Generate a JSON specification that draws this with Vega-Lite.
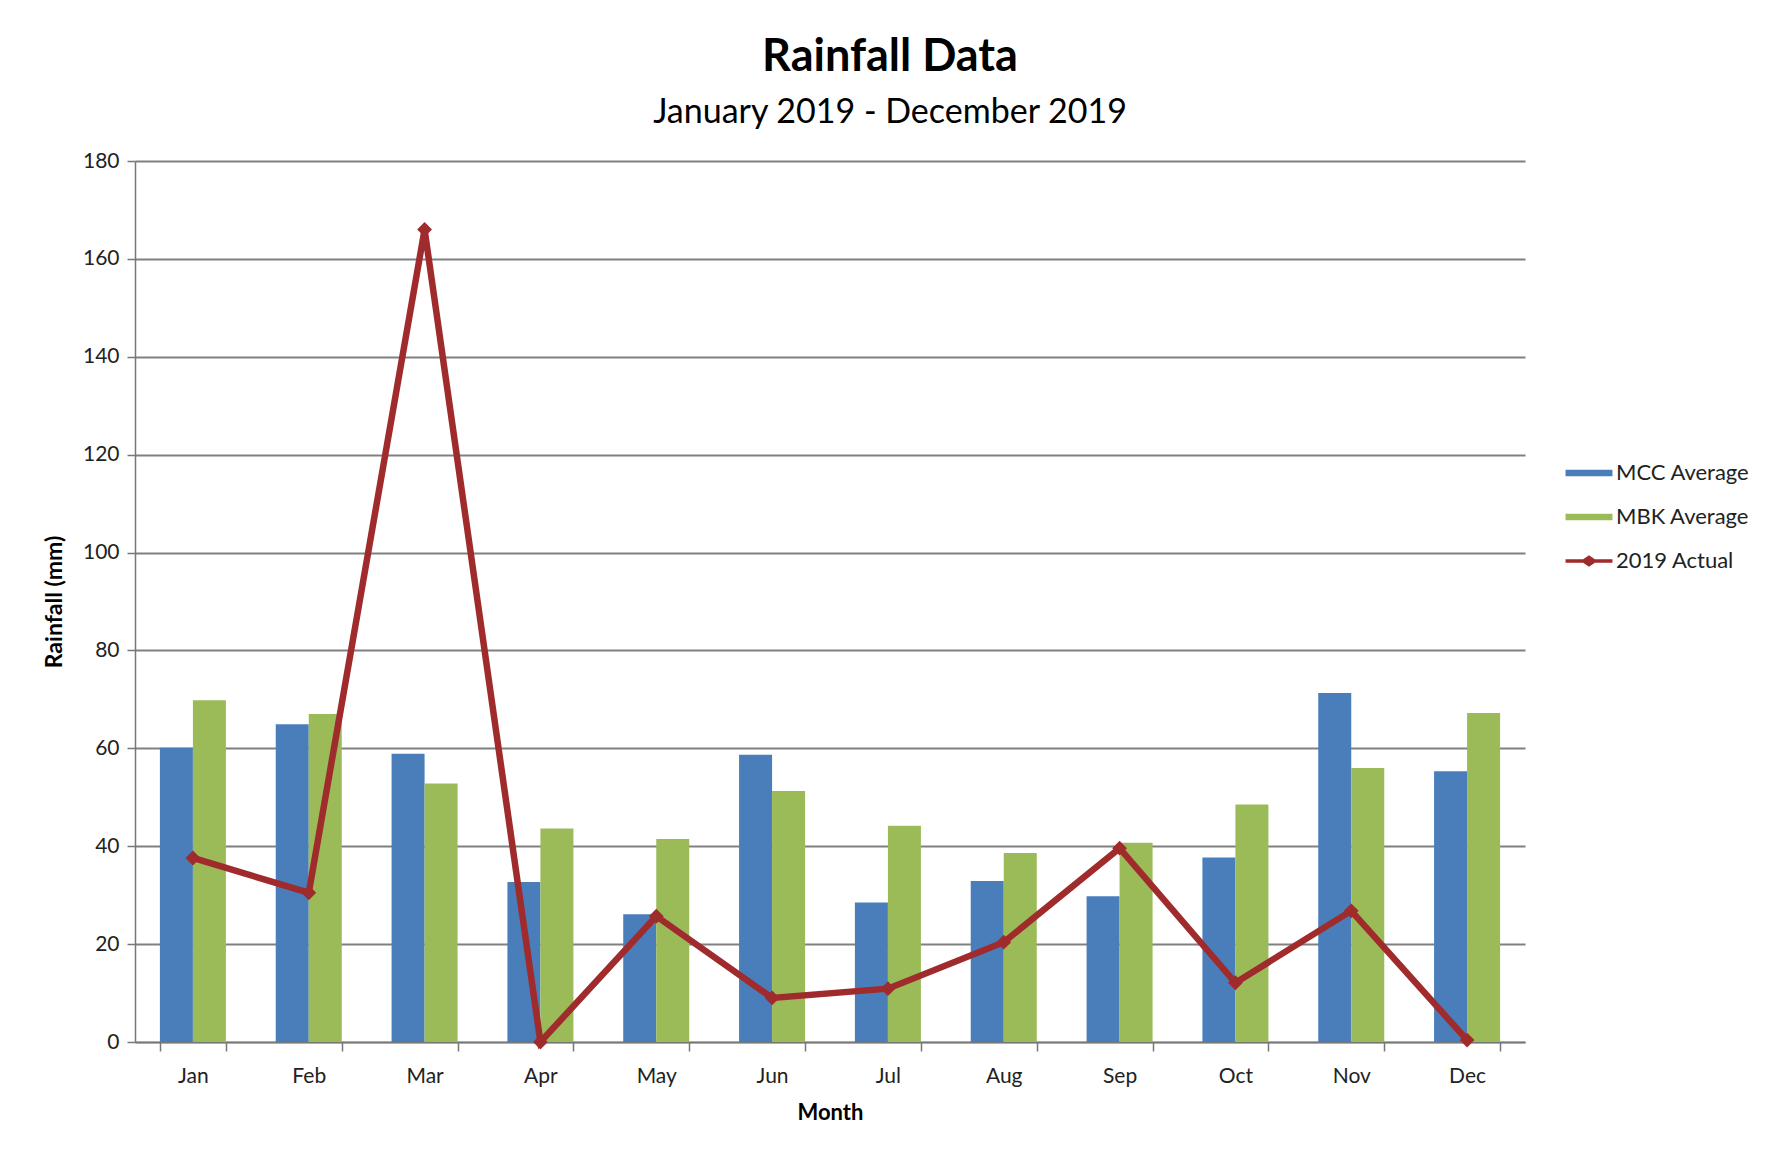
{
  "$schema": "https://vega.github.io/schema/vega-lite/v6.json",
  "width": 1390,
  "height": 881,
  "autosize": {"type": "none"},
  "padding": {"left": 135, "top": 161, "right": 242, "bottom": 113},
  "background": "white",
  "title": {
    "text": "Rainfall Data",
    "subtitle": "January 2019 - December 2019",
    "anchor": "middle",
    "dx": 60,
    "font": "Lato",
    "fontSize": 45,
    "fontWeight": "bold",
    "color": "black",
    "subtitleFont": "Lato",
    "subtitleFontSize": 34,
    "subtitleColor": "black",
    "subtitlePadding": 16,
    "offset": 20
  },
  "datasets": {
    "bars": [
      {"month": "Jan", "series": "MCC Average", "rain": 60.1},
      {"month": "Jan", "series": "MBK Average", "rain": 69.8},
      {"month": "Feb", "series": "MCC Average", "rain": 64.9},
      {"month": "Feb", "series": "MBK Average", "rain": 67.0},
      {"month": "Mar", "series": "MCC Average", "rain": 58.9},
      {"month": "Mar", "series": "MBK Average", "rain": 52.8},
      {"month": "Apr", "series": "MCC Average", "rain": 32.7},
      {"month": "Apr", "series": "MBK Average", "rain": 43.6},
      {"month": "May", "series": "MCC Average", "rain": 26.1},
      {"month": "May", "series": "MBK Average", "rain": 41.5},
      {"month": "Jun", "series": "MCC Average", "rain": 58.7},
      {"month": "Jun", "series": "MBK Average", "rain": 51.3},
      {"month": "Jul", "series": "MCC Average", "rain": 28.5},
      {"month": "Jul", "series": "MBK Average", "rain": 44.2},
      {"month": "Aug", "series": "MCC Average", "rain": 32.9},
      {"month": "Aug", "series": "MBK Average", "rain": 38.6},
      {"month": "Sep", "series": "MCC Average", "rain": 29.8},
      {"month": "Sep", "series": "MBK Average", "rain": 40.7},
      {"month": "Oct", "series": "MCC Average", "rain": 37.7},
      {"month": "Oct", "series": "MBK Average", "rain": 48.5},
      {"month": "Nov", "series": "MCC Average", "rain": 71.3},
      {"month": "Nov", "series": "MBK Average", "rain": 56.0},
      {"month": "Dec", "series": "MCC Average", "rain": 55.3},
      {"month": "Dec", "series": "MBK Average", "rain": 67.2}
    ],
    "actual": [
      {"month": "Jan", "series": "2019 Actual", "rain": 37.6},
      {"month": "Feb", "series": "2019 Actual", "rain": 30.5},
      {"month": "Mar", "series": "2019 Actual", "rain": 166.0},
      {"month": "Apr", "series": "2019 Actual", "rain": 0},
      {"month": "May", "series": "2019 Actual", "rain": 25.7},
      {"month": "Jun", "series": "2019 Actual", "rain": 9.0},
      {"month": "Jul", "series": "2019 Actual", "rain": 10.9},
      {"month": "Aug", "series": "2019 Actual", "rain": 20.4},
      {"month": "Sep", "series": "2019 Actual", "rain": 39.6},
      {"month": "Oct", "series": "2019 Actual", "rain": 12.1},
      {"month": "Nov", "series": "2019 Actual", "rain": 26.8},
      {"month": "Dec", "series": "2019 Actual", "rain": 0.4}
    ]
  },
  "config": {
    "font": "Lato",
    "view": {"stroke": null},
    "axis": {
      "labelFont": "Lato",
      "labelFontSize": 21,
      "labelColor": "#222",
      "titleFont": "Lato",
      "titleFontSize": 22,
      "titleFontWeight": "bold",
      "titleColor": "black",
      "domainColor": "#777",
      "tickColor": "#777",
      "domainWidth": 1.5,
      "tickWidth": 1.5
    }
  },
  "encoding": {
    "x": {
      "field": "month",
      "type": "nominal",
      "sort": ["Jan","Feb","Mar","Apr","May","Jun","Jul","Aug","Sep","Oct","Nov","Dec"],
      "scale": {"paddingInner": 0.43, "paddingOuter": 0.215},
      "axis": {
        "title": "Month",
        "labelAngle": 0,
        "tickBand": "extent",
        "tickSize": 9,
        "labelPadding": 14,
        "titlePadding": 16
      }
    },
    "y": {
      "field": "rain",
      "type": "quantitative",
      "scale": {"domain": [0, 180], "nice": false},
      "axis": {
        "title": "Rainfall (mm)",
        "titleFontSize": 23,
        "values": [0,20,40,60,80,100,120,140,160,180],
        "grid": true,
        "gridColor": "#808080",
        "gridWidth": 1.8,
        "tickSize": 8,
        "labelPadding": 8,
        "titlePadding": 16
      }
    },
    "color": {
      "field": "series",
      "type": "nominal",
      "scale": {
        "domain": ["MCC Average", "MBK Average", "2019 Actual"],
        "range": ["#4A7EBB", "#9BBB59", "#A02B2D"]
      },
      "legend": {
        "title": null,
        "orient": "none",
        "legendX": 1442,
        "legendY": 300,
        "labelFont": "Lato",
        "labelFontSize": 22,
        "labelColor": "#222",
        "symbolSize": 550,
        "rowPadding": 21,
        "labelOffset": 15,
        "encode": {
          "symbols": {
            "update": {
              "shape": {"signal": "datum.value === '2019 Actual' ? 'M-2,-0.14H-0.5L0,-0.5L0.5,-0.14H2V0.14H0.5L0,0.5L-0.5,0.14H-2Z' : 'M-2,-0.28H2V0.28H-2Z'"},
              "fill": {"signal": "scale('color', datum.value)"},
              "stroke": {"value": null},
              "strokeWidth": {"value": 0},
              "opacity": {"value": 1}
            }
          }
        }
      }
    }
  },
  "layer": [
    {
      "data": {"name": "bars"},
      "mark": {"type": "bar"},
      "encoding": {
        "xOffset": {"field": "series", "type": "nominal", "sort": ["MCC Average", "MBK Average"], "scale": {"paddingInner": 0, "paddingOuter": 0}}
      }
    },
    {
      "data": {"name": "actual"},
      "mark": {"type": "line", "strokeWidth": 6.5, "point": {"shape": "diamond", "size": 220, "filled": true, "color": "#A02B2D"}},
      "encoding": {}
    }
  ]
}
